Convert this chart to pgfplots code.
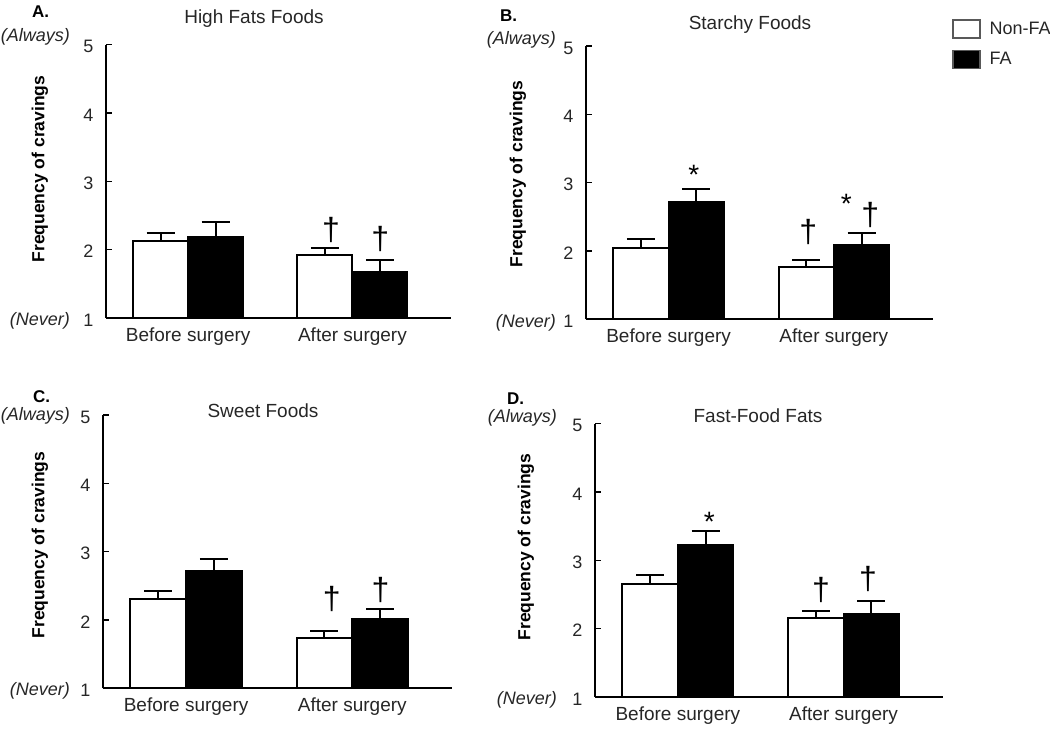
\documentclass[border=0pt]{standalone}
\usepackage{fontspec}
\setmainfont{Liberation Sans}
\usepackage{pgfplots}
\usepackage{pgfplotstable}
\pgfplotsset{compat=1.18}
\newcommand{\fs}[1]{\fontsize{#1bp}{#1bp}\selectfont}

% columns: xn/xf = bar positions (groups at 0 and 1), Non-FA mean, SE, FA mean, SE
\pgfplotstableread{
xn xf nf nfe fa fae
-0.1675 0.1675 2.12 0.12 2.19 0.21
0.8325 1.1675 1.92 0.10 1.68 0.17
}\dataA
\pgfplotstableread{
xn xf nf nfe fa fae
-0.1675 0.1675 2.05 0.12 2.72 0.19
0.8325 1.1675 1.76 0.11 2.09 0.17
}\dataB
\pgfplotstableread{
xn xf nf nfe fa fae
-0.1675 0.1675 2.31 0.11 2.71 0.18
0.8325 1.1675 1.73 0.11 2.01 0.15
}\dataC
\pgfplotstableread{
xn xf nf nfe fa fae
-0.1675 0.1675 2.66 0.13 3.23 0.20
0.8325 1.1675 2.16 0.10 2.22 0.18
}\dataD

\pgfplotsset{
  panel/.style={
    scale only axis, height=273.3bp, anchor=south west,
    xmin=-0.5, xmax=1.6, ymin=1, ymax=5,
    axis x line*=bottom, axis y line*=left,
    axis line style={line width=2.2bp, -},
    ytick={1,2,3,4,5},
    tick align=inside, major tick length=6bp,
    ytick style={line width=1.2bp, black},
    xtick={0,1}, xticklabels={Before surgery, After surgery},
    xtick style={draw=none},
    xticklabel style={font=\fs{19}, yshift=-6bp, text=black!85},
    yticklabel style={font=\fs{18}, xshift=-9bp, yshift=-2bp, text=black!85},
    /pgf/number format/assume math mode=true,
    axis on top,
  },
  nfbar/.style={ybar, bar width=0.335, bar shift=0pt, fill=white, draw=black, line width=2bp,
    legend image code/.code={\draw[fill=white, draw=black!65, line width=1.3bp] (0bp,-9bp) rectangle (27bp,9bp);}},
  fabar/.style={ybar, bar width=0.335, bar shift=0pt, fill=black, draw=black, line width=2bp,
    legend image code/.code={\draw[fill=black, draw=black!65, line width=1.3bp] (0bp,-9bp) rectangle (27bp,9bp);}},
  errs/.style={forget plot, draw=none, mark=none,
    error bars/.cd, y dir=plus, y explicit, error mark=-,
    error bar style={draw=black, line width=2bp, line cap=butt},
    error mark options={rotate=90, draw=black, line width=2bp, mark size=14bp}},
}
\tikzset{dag/.style={font=\fs{32}}, ast/.style={font=\fs{28}}}

\begin{document}
\begin{tikzpicture}[x=1bp,y=1bp]
\useasboundingbox (0,0) rectangle (1050,729);

% Panel A
\begin{axis}[panel, width=345bp, at={(106bp,411bp)}]
\addplot[nfbar] table[x=xn, y=nf] {\dataA};
\addplot[fabar] table[x=xf, y=fa] {\dataA};
\addplot[errs] table[x=xn, y=nf, y error=nfe] {\dataA};
\addplot[errs] table[x=xf, y=fa, y error=fae] {\dataA};
\node[dag] at (axis cs:0.87,2.29) {†};
\node[dag] at (axis cs:1.17,2.16) {†};
\end{axis}

% Panel B
\begin{axis}[panel, width=347bp, at={(586bp,409.7bp)},
  legend style={draw=none, fill=none, at={(rel axis cs:1.055,1.098)}, anchor=north west,
    inner sep=0pt, row sep=11bp, column sep=9bp, font=\fs{18}, text=black!85, nodes={inner sep=0pt}},
  legend cell align=left]
\addplot[nfbar] table[x=xn, y=nf] {\dataB};
\addlegendentry{Non-FA}
\addplot[fabar] table[x=xf, y=fa] {\dataB};
\addlegendentry{FA}
\addplot[errs] table[x=xn, y=nf, y error=nfe] {\dataB};
\addplot[errs] table[x=xf, y=fa, y error=fae] {\dataB};
\node[ast] at (axis cs:0.153,3.12) {*};
\node[dag] at (axis cs:0.845,2.28) {†};
\node[ast] at (axis cs:1.075,2.69) {*};
\node[dag] at (axis cs:1.22,2.52) {†};
\end{axis}

% Panel C
\begin{axis}[panel, width=349bp, at={(103bp,40.7bp)}]
\addplot[nfbar] table[x=xn, y=nf] {\dataC};
\addplot[fabar] table[x=xf, y=fa] {\dataC};
\addplot[errs] table[x=xn, y=nf, y error=nfe] {\dataC};
\addplot[errs] table[x=xf, y=fa, y error=fae] {\dataC};
\node[dag] at (axis cs:0.877,2.31) {†};
\node[dag] at (axis cs:1.17,2.44) {†};
\end{axis}

% Panel D
\begin{axis}[panel, width=348bp, at={(595bp,32bp)}]
\addplot[nfbar] table[x=xn, y=nf] {\dataD};
\addplot[fabar] table[x=xf, y=fa] {\dataD};
\addplot[errs] table[x=xn, y=nf, y error=nfe] {\dataD};
\addplot[errs] table[x=xf, y=fa, y error=fae] {\dataD};
\node[ast] at (axis cs:0.19,3.57) {*};
\node[dag] at (axis cs:0.864,2.56) {†};
\node[dag] at (axis cs:1.148,2.73) {†};
\end{axis}

% titles
\begin{scope}[every node/.style={text=black!85}]
\node[anchor=base, font=\fs{19}] at (254,705) {High Fats Foods};
\node[anchor=base, font=\fs{19}] at (750,699) {Starchy Foods};
\node[anchor=base, font=\fs{19}] at (263,311) {Sweet Foods};
\node[anchor=base, font=\fs{19}] at (758,306) {Fast-Food Fats};
% Always / Never
\foreach \px/\py in {70/692, 556/689, 70/313.5, 557/311}
  \node[anchor=east, inner sep=0pt, font=\itshape\fs{18}] at (\px,\py) {(Always)};
\foreach \px/\py in {70/408, 556/406, 70/38, 557/29}
  \node[anchor=east, inner sep=0pt, font=\itshape\fs{18}] at (\px,\py) {(Never)};
\end{scope}
% panel letters
\node[anchor=base west, inner sep=0pt, font=\bfseries\fs{17}] at (32,711) {A.};
\node[anchor=base west, inner sep=0pt, font=\bfseries\fs{17}] at (500,707) {B.};
\node[anchor=base west, inner sep=0pt, font=\bfseries\fs{17}] at (33,326) {C.};
\node[anchor=base west, inner sep=0pt, font=\bfseries\fs{17}] at (507,324) {D.};
% y labels
\foreach \px/\py in {40/560, 518/555, 40/184, 526/182}
  \node[rotate=90, font=\bfseries\fs{17.5}] at (\px,\py) {Frequency of cravings};
\end{tikzpicture}
\end{document}
